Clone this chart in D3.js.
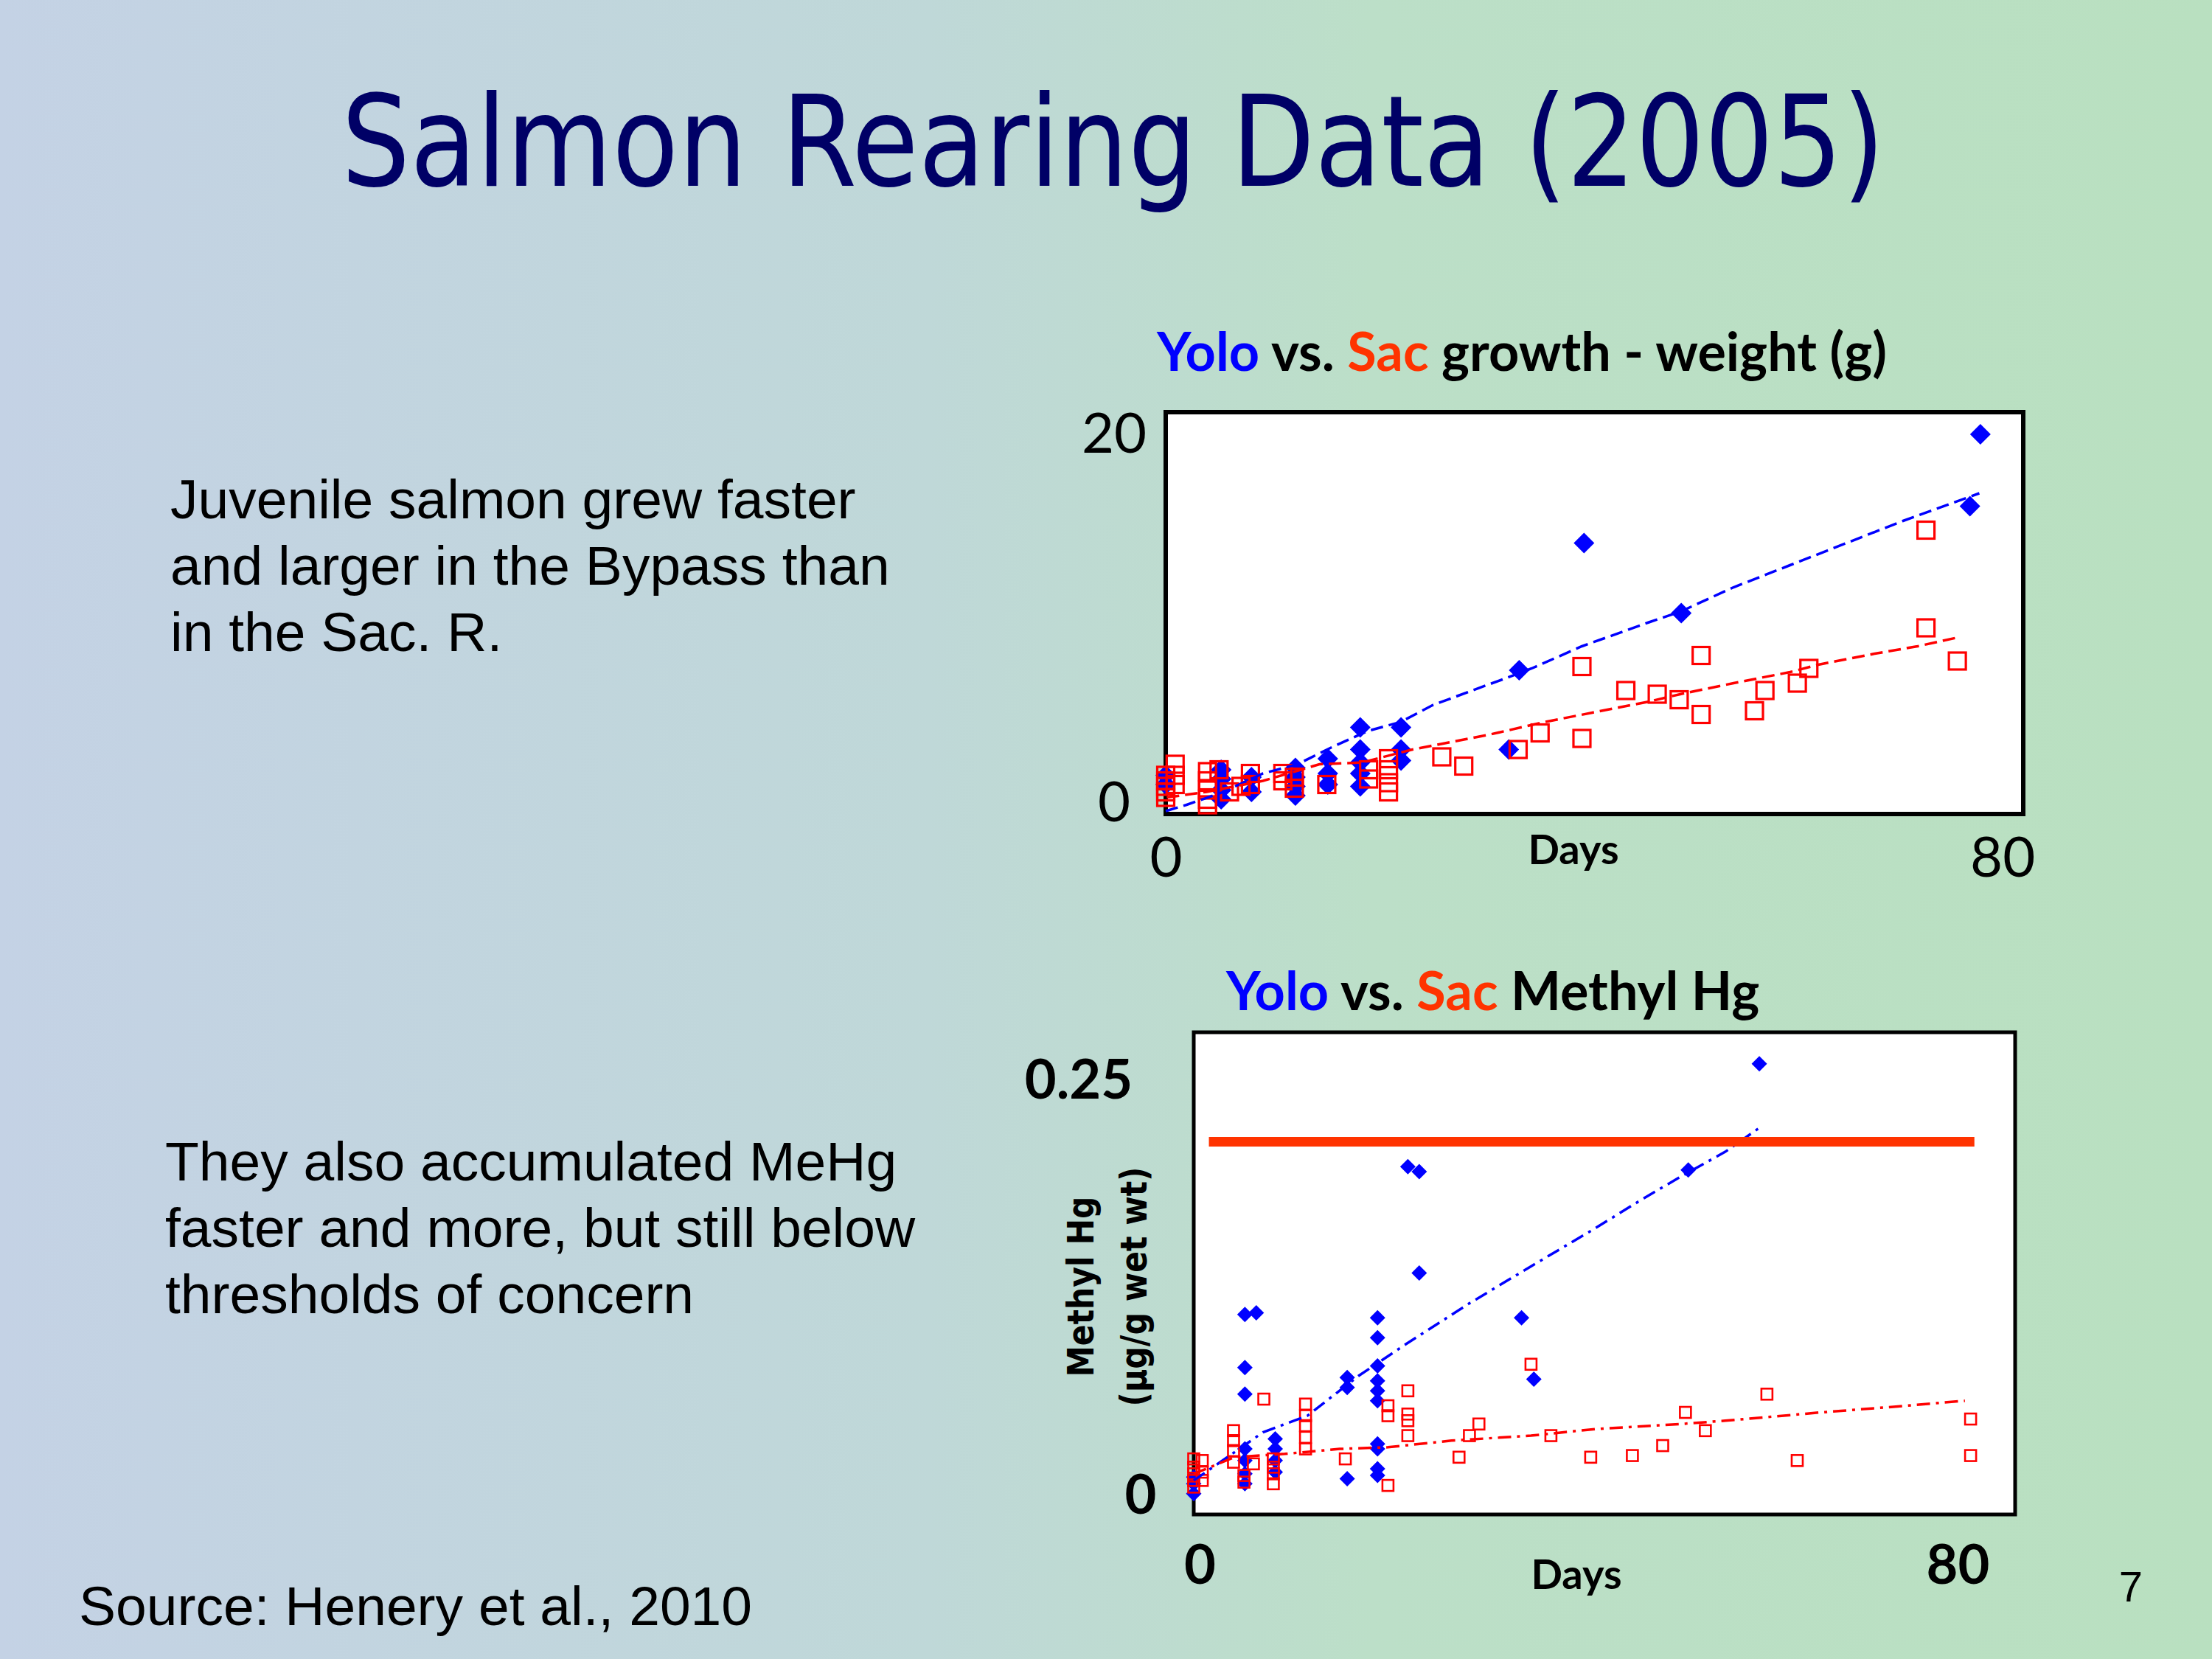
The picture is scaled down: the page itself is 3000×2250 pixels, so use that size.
<!DOCTYPE html>
<html>
<head>
<meta charset="utf-8">
<script src="https://cdn.jsdelivr.net/npm/d3@7"></script>
<style>
  body { margin: 0; }
  svg { display: block; }
</style>
</head>
<body>
<div id="slide"></div>
<script>
// --- growth (weight, g) ---
const xTicksGrowth = [0, 80];
const yTicksGrowth = [0, 20];

const yoloWtDays = [0, 0, 5.3, 5.3, 5.3, 5.3, 8.2, 8.2, 12.4, 12.4, 12.4, 12.4, 15.5, 15.5, 15.5,
  18.6, 18.6, 18.6, 18.6, 18.6, 22.5, 22.5, 22.5, 32.8, 33.8, 40, 49.3, 76.9, 77.9];
const yoloWt = [1.4, 0.9, 1.7, 1.2, 0.6, 0.1, 1.3, 0.5, 1.8, 1.3, 0.8, 0.3, 2.3, 1.5, 0.9,
  4.0, 2.8, 2.1, 1.5, 0.8, 4.0, 2.8, 2.2, 2.8, 7.1, 14.0, 10.2, 16.0, 19.9];

const sacWtDays = [0, 0, 0, 0, 0, 0.9, 0.9, 0.9, 4.0, 4.0, 4.0, 4.0, 4.0, 5.1, 6.1, 7.2, 8.1, 8.1,
  11.2, 11.2, 12.3, 12.3, 15.4, 19.4, 19.4, 21.3, 21.3, 21.3, 21.3, 26.4, 28.5, 33.7, 35.8,
  39.8, 39.8, 44.0, 47.0, 49.1, 51.2, 51.2, 56.3, 57.3, 60.4, 61.5, 72.7, 72.7, 75.7];
const sacWt = [1.4, 1.1, 0.8, 0.5, 0.2, 2.0, 1.4, 0.9, 1.6, 1.1, 0.6, 0.1, -0.2, 1.7, 0.5, 0.8, 1.5, 0.9,
  1.5, 1.1, 1.3, 0.7, 0.9, 1.7, 1.2, 2.3, 1.7, 1.0, 0.5, 2.4, 1.9, 2.8, 3.7,
  7.3, 3.4, 6.0, 5.8, 5.5, 7.9, 4.7, 4.9, 6.0, 6.4, 7.2, 14.7, 9.4, 7.6];

// trend curves as drawn on the slide
const yoloWtTrendDays = [0, 2, 5.3, 9.3, 12.6, 15.8, 19.3, 22.5, 25.5, 29.3, 32.2, 35, 39.8, 46.2, 49.3, 54.3, 59.7, 65.1, 70.5, 77.8];
const yoloWtTrend = [-0.54, -0.2, 0.45, 1.5, 2.0, 2.9, 3.8, 4.3, 5.2, 6.0, 6.6, 7.2, 8.4, 9.7, 10.3, 11.6, 12.8, 14.0, 15.2, 16.7];
const sacWtTrendDays = [0.1, 3.9, 9.3, 14.7, 18.8, 23.6, 30.9, 36.3, 40.8, 46.2, 49.2, 54.3, 59.7, 62.4, 67.8, 71.9, 75.9];
const sacWtTrend = [0.2, 0.5, 1.1, 2.0, 2.1, 2.8, 3.6, 4.3, 4.8, 5.4, 5.8, 6.4, 7.0, 7.4, 8.0, 8.4, 8.9];

// --- methyl mercury (ug/g wet wt) ---
const xTicksHg = [0, 80];
const yTicksHg = [0, 0.25];

const yoloHgDays = [0, 0, 0, 5.4, 5.4, 5.4, 5.4, 5.4, 5.4, 5.4, 6.6, 8.6, 8.6, 8.6, 8.6, 16.2, 16.2, 16.2,
  19.4, 19.4, 19.4, 19.4, 19.4, 19.4, 19.4, 19.4, 19.4, 19.4, 22.6, 23.8, 23.8, 34.6, 35.9, 52.2, 59.7];
const yoloHg = [0.000, 0.006, 0.010, 0.108, 0.076, 0.060, 0.027, 0.020, 0.012, 0.006, 0.109, 0.033, 0.027, 0.020, 0.013, 0.070, 0.064, 0.009,
  0.106, 0.094, 0.077, 0.068, 0.062, 0.056, 0.030, 0.027, 0.015, 0.011, 0.197, 0.194, 0.133, 0.106, 0.069, 0.195, 0.259];

const sacHgDays = [0, 0, 0, 0, 0, 0.9, 0.9, 0.9, 4.2, 4.2, 4.2, 4.2, 5.3, 5.3, 6.3, 7.4, 8.4, 8.4, 8.4, 8.4,
  11.8, 11.8, 11.8, 11.8, 11.8, 16.0, 20.5, 20.5, 20.5, 22.6, 22.6, 22.6, 22.6, 28.0, 29.1, 30.1, 35.6, 37.7,
  41.9, 46.3, 49.5, 51.9, 54.0, 60.5, 63.7, 82.0, 82.0];
const sacHg = [0.021, 0.016, 0.012, 0.008, 0.004, 0.020, 0.013, 0.008, 0.038, 0.032, 0.026, 0.019, 0.011, 0.007, 0.018, 0.057, 0.021, 0.016, 0.012, 0.006,
  0.054, 0.047, 0.041, 0.034, 0.027, 0.021, 0.053, 0.047, 0.005, 0.062, 0.048, 0.044, 0.035, 0.022, 0.035, 0.042, 0.078, 0.035,
  0.022, 0.023, 0.029, 0.049, 0.038, 0.060, 0.020, 0.045, 0.023];

const yoloHgTrendDays = [0, 4.3, 7.3, 12.0, 17.4, 22.1, 28.9, 35.6, 42.4, 47.5, 51.4, 56.1, 59.6];
const yoloHgTrend = [0.008, 0.025, 0.037, 0.047, 0.071, 0.089, 0.114, 0.137, 0.160, 0.178, 0.191, 0.206, 0.220];
const sacHgTrendDays = [0, 4.3, 9.6, 15.4, 20.5, 27.2, 35.6, 42.4, 51.4, 56.1, 66.2, 73, 81.4];
const sacHgTrend = [0.012, 0.022, 0.024, 0.027, 0.028, 0.032, 0.035, 0.039, 0.042, 0.044, 0.049, 0.052, 0.056];

// threshold of concern (thick bar)
const thresholdDays = [1.6, 82.4];
const thresholdHg = 0.212;

const W = 3000, H = 2250;
const BLUE = '#0000ff', RED = '#ff0000', ORANGE = '#ff3300';

var svg = d3.select('#slide')
    .append('svg')
    .attr('width', W)
    .attr('height', H);

// background gradient blue-grey -> pale green
var grad = svg.append('defs').append('linearGradient')
    .attr('id', 'bg')
    .attr('x1', '0').attr('x2', '1').attr('y1', '0').attr('y2', '0');
grad.append('stop').attr('offset', '0').attr('stop-color', '#c4d2e5');
grad.append('stop').attr('offset', '0.42').attr('stop-color', '#bfd8d8');
grad.append('stop').attr('offset', '0.62').attr('stop-color', '#bcdfc8');
grad.append('stop').attr('offset', '1').attr('stop-color', '#b9e0c0');
svg.append('rect').attr('width', W).attr('height', H).attr('fill', 'url(#bg)');

// slide title
svg.append('text')
    .attr('x', 463).attr('y', 252)
    .attr('textLength', 2093).attr('lengthAdjust', 'spacingAndGlyphs')
    .attr('font-family', 'DejaVu Sans').attr('font-size', 172)
    .attr('fill', '#000066')
    .text('Salmon Rearing Data (2005)');

// bullet-less body text
function bodyText(lines, x, y0) {
    svg.append('g').selectAll('text')
        .data(lines)
        .join('text')
        .attr('x', x)
        .attr('y', (d, i) => y0 + i * 90)
        .attr('font-family', 'Liberation Sans, Arial').attr('font-size', 75)
        .attr('fill', '#000')
        .text(d => d);
}
bodyText(['Juvenile salmon grew faster', 'and larger in the Bypass than', 'in the Sac. R.'], 231, 703);
bodyText(['They also accumulated MeHg', 'faster and more, but still below', 'thresholds of concern'], 224, 1601);

svg.append('text')
    .attr('x', 107).attr('y', 2204)
    .attr('font-family', 'Liberation Sans, Arial').attr('font-size', 75)
    .text('Source: Henery et al., 2010');
svg.append('text')
    .attr('x', 2890).attr('y', 2172).attr('text-anchor', 'middle')
    .attr('font-family', 'Liberation Sans, Arial').attr('font-size', 58)
    .text('7');

// chart title with coloured Yolo / Sac
function chartTitle(x, y, size, rest) {
    var t = svg.append('text')
        .attr('x', x).attr('y', y)
        .attr('font-family', 'Lato').attr('font-weight', 'bold').attr('font-size', size)
        .attr('fill', '#000');
    t.append('tspan').attr('fill', BLUE).text('Yolo');
    t.append('tspan').text(' vs. ');
    t.append('tspan').attr('fill', ORANGE).text('Sac');
    t.append('tspan').text(' ' + rest);
}

function drawChart(o) {
    var g = svg.append('g');
    var x = o.x, y = o.y;
    var r = x.range(), rr = y.range();

    g.append('rect')
        .attr('x', r[0]).attr('y', rr[1])
        .attr('width', r[1] - r[0]).attr('height', rr[0] - rr[1])
        .attr('fill', '#fff').attr('stroke', '#000').attr('stroke-width', o.frameW);

    // Yolo: filled diamonds
    g.append('g').selectAll('path')
        .data(d3.zip(o.yoloDays, o.yoloVals))
        .join('path')
        .attr('d', d3.symbol().type(d3.symbolSquare).size(o.diamond * o.diamond / 2))
        .attr('transform', d => `translate(${x(d[0])},${y(d[1])}) rotate(45)`)
        .attr('fill', BLUE);

    // Sac: open squares
    g.append('g').selectAll('rect')
        .data(d3.zip(o.sacDays, o.sacVals))
        .join('rect')
        .attr('x', d => x(d[0]) - o.square / 2)
        .attr('y', d => y(d[1]) - o.square / 2)
        .attr('width', o.square).attr('height', o.square)
        .attr('fill', 'none').attr('stroke', RED).attr('stroke-width', o.squareW);

    var line = d3.line().x(d => x(d[0])).y(d => y(d[1]));
    g.append('path')
        .attr('d', line(d3.zip(o.yoloTrendDays, o.yoloTrend)))
        .attr('fill', 'none').attr('stroke', BLUE).attr('stroke-width', 3.5)
        .attr('stroke-dasharray', o.dash);
    g.append('path')
        .attr('d', line(d3.zip(o.sacTrendDays, o.sacTrend)))
        .attr('fill', 'none').attr('stroke', RED).attr('stroke-width', 3.5)
        .attr('stroke-dasharray', o.dash);

    // axes: only the two end labels, no lines
    var xa = g.append('g')
        .attr('transform', `translate(${o.xLabelShift},${o.xLabelY})`)
        .call(d3.axisBottom(x).tickValues(o.xTicks).tickSize(0).tickFormat(d => d));
    var ya = g.append('g')
        .call(d3.axisLeft(y).tickValues(o.yTicks).tickSize(0).tickFormat(d => d));
    [xa, ya].forEach(a => {
        a.select('.domain').remove();
        a.selectAll('text')
            .attr('font-family', 'Lato')
            .attr('font-weight', o.tickBold ? 'bold' : 'normal')
            .attr('font-size', o.tickSize)
            .attr('fill', '#000');
    });
    xa.selectAll('text').attr('y', 0).attr('dy', null);
    ya.selectAll('text')
        .attr('text-anchor', 'middle')
        .attr('x', o.yLabelX)
        .attr('dy', '0.36em');

    g.append('text')
        .attr('x', o.daysX).attr('y', o.daysY).attr('text-anchor', 'middle')
        .attr('font-family', 'Lato').attr('font-weight', 'bold').attr('font-size', 56)
        .text('Days');
    return g;
}

// growth chart
var xG = d3.scaleLinear().domain([0, 82]).range([1581, 2744]);
var yG = d3.scaleLinear().domain([-0.7, 21.1]).range([1104, 559]);
chartTitle(1569, 503, 72, 'growth - weight (g)');
drawChart({
    x: xG, y: yG, frameW: 6,
    yoloDays: yoloWtDays, yoloVals: yoloWt, sacDays: sacWtDays, sacVals: sacWt,
    yoloTrendDays: yoloWtTrendDays, yoloTrend: yoloWtTrend,
    sacTrendDays: sacWtTrendDays, sacTrend: sacWtTrend,
    diamond: 28, square: 23, squareW: 3.2, dash: '17 8',
    xTicks: xTicksGrowth, yTicks: yTicksGrowth,
    xLabelShift: 0, xLabelY: 1189, yLabelX: 1511,
    tickBold: false, tickSize: 76,
    daysX: 2134, daysY: 1172
});

// methyl Hg chart
var xM = d3.scaleLinear().domain([0, 86.7]).range([1619, 2733]);
var yM = d3.scaleLinear().domain([-0.0125, 0.278]).range([2054, 1400]);
chartTitle(1663, 1370, 72, 'Methyl Hg');
var hg = drawChart({
    x: xM, y: yM, frameW: 5,
    yoloDays: yoloHgDays, yoloVals: yoloHg, sacDays: sacHgDays, sacVals: sacHg,
    yoloTrendDays: yoloHgTrendDays, yoloTrend: yoloHgTrend,
    sacTrendDays: sacHgTrendDays, sacTrend: sacHgTrend,
    diamond: 21, square: 15, squareW: 2.6, dash: '18 8 4 8',
    xTicks: xTicksHg, yTicks: yTicksHg,
    xLabelShift: 8, xLabelY: 2148, yLabelX: 1463,
    tickBold: true, tickSize: 74,
    daysX: 2138, daysY: 2155
});
// the "0" label sits closer to the frame than "0.25"
hg.selectAll('text').filter(function () { return this.textContent === '0' && +this.getAttribute('x') === 1463; })
    .attr('x', 1547);

hg.append('line')
    .attr('x1', xM(thresholdDays[0])).attr('x2', xM(thresholdDays[1]))
    .attr('y1', yM(thresholdHg)).attr('y2', yM(thresholdHg))
    .attr('stroke', ORANGE).attr('stroke-width', 13);

// rotated y label
[['Methyl Hg', 1483, 245], ['(µg/g wet wt)', 1555, 325]].forEach(d => {
    svg.append('text')
        .attr('transform', `translate(${d[1]},1745) rotate(-90)`)
        .attr('text-anchor', 'middle')
        .attr('textLength', d[2]).attr('lengthAdjust', 'spacingAndGlyphs')
        .attr('font-family', 'DejaVu Sans').attr('font-weight', 'bold').attr('font-size', 50)
        .text(d[0]);
});
</script>
</body>
</html>
